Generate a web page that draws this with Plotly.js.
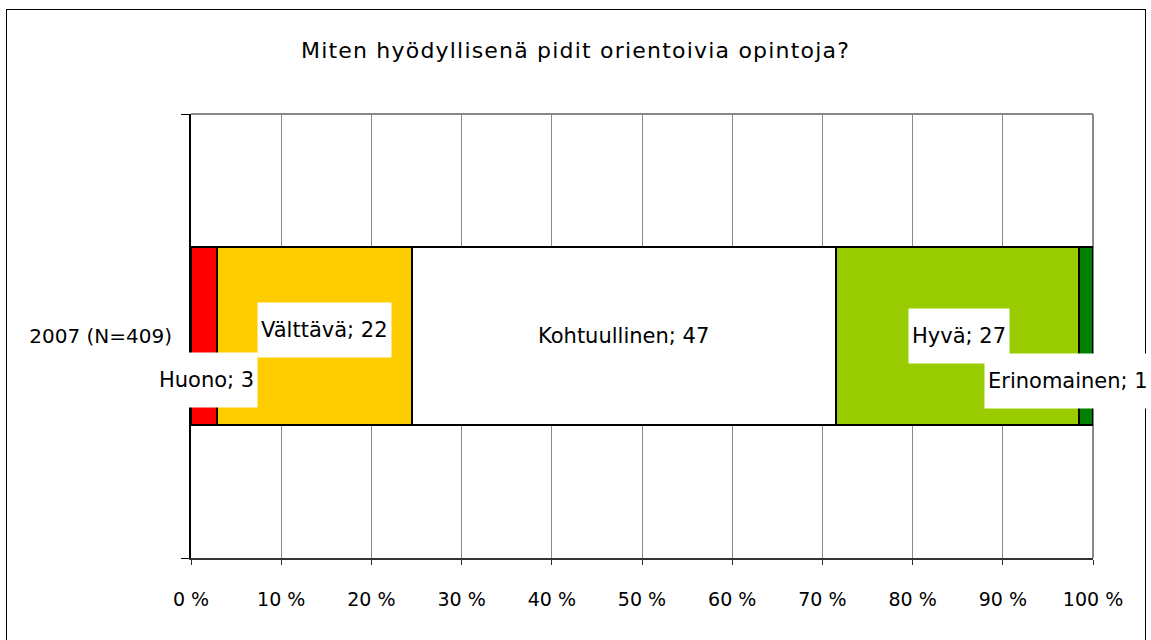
<!DOCTYPE html>
<html>
<head>
<meta charset="utf-8">
<script src="https://cdn.plot.ly/plotly-3.0.1.min.js"></script>
<style>
  html, body { margin: 0; padding: 0; background: #ffffff; }
  #frame { position: absolute; left: 6px; top: 9px; width: 1140px; height: 700px; border: 1.5px solid #000; box-sizing: border-box; }
  #chart { position: absolute; left: 0; top: 0; width: 1151px; height: 640px; }
  #chart .gtitle { letter-spacing: 1.2px; }
</style>
</head>
<body>
<div id="frame"></div>
<div id="chart"></div>
<script>
// ---- data ----
const titleText = "Miten hyödyllisenä pidit orientoivia opintoja?";
const category = "2007 (N=409)";
const seriesNames = ["Huono", "Välttävä", "Kohtuullinen", "Hyvä", "Erinomainen"];
const seriesValues = [2.9, 21.6, 47.0, 27.0, 1.5];     // percent shares (bar lengths)
const labelValues = [3, 22, 47, 27, 1];                // values shown in data labels
const xTickVals = [0, 10, 20, 30, 40, 50, 60, 70, 80, 90, 100];
const xTickText = ["0 %", "10 %", "20 %", "30 %", "40 %", "50 %", "60 %", "70 %", "80 %", "90 %", "100 %"];

// ---- styles ----
const colors = ["#FF0000", "#FFCC00", "#FFFFFF", "#99CC00", "#008000"];
const labelShiftX = [2, 10, 0, 1, -18];
const labelShiftY = [-44, 6, 0, 0, -45];
const FONT = "DejaVu Sans, Verdana, sans-serif";

const traces = seriesNames.map((name, i) => ({
  type: "bar",
  orientation: "h",
  name: name,
  x: [seriesValues[i]],
  y: [category],
  width: 0.4,
  marker: { color: colors[i], line: { color: "#000000", width: 2 } },
  hoverinfo: "skip",
  showlegend: false
}));

// label positions from cumulative values
let cum = 0;
const annotations = seriesNames.map((name, i) => {
  const center = cum + seriesValues[i] / 2;
  cum += seriesValues[i];
  return {
    x: center, y: category, xref: "x", yref: "y",
    text: name + "; " + labelValues[i],
    showarrow: false,
    xshift: labelShiftX[i], yshift: labelShiftY[i],
    bgcolor: "#FFFFFF",
    borderpad: 3,
    height: 48,
    valign: "middle",
    font: { family: FONT, size: 21, color: "#000000" }
  };
});

const layout = {
  width: 1151, height: 640,
  paper_bgcolor: "rgba(0,0,0,0)",
  plot_bgcolor: "#FFFFFF",
  margin: { l: 191, r: 58, t: 114, b: 82 },
  title: {
    text: titleText,
    xref: "container", x: 0.5, xanchor: "center",
    yref: "container", y: 0.922, yanchor: "middle",
    font: { family: FONT, size: 22, color: "#000000" }
  },
  barmode: "stack",
  xaxis: {
    range: [0, 100],
    tickvals: xTickVals, ticktext: xTickText,
    showgrid: true, gridcolor: "#888888", gridwidth: 1,
    zeroline: false,
    showline: true, linecolor: "#333333", linewidth: 2,
    ticks: "outside", ticklen: 5, tickcolor: "#333333", tickwidth: 1,
    ticklabelstandoff: 18,
    tickfont: { family: FONT, size: 19, color: "#000000" },
    fixedrange: true
  },
  yaxis: {
    type: "category",
    range: [-0.5, 0.5],
    showgrid: false, zeroline: false,
    showline: true, linecolor: "#000000", linewidth: 2,
    ticks: "outside", tickson: "boundaries", ticklen: 8, tickcolor: "#000000", tickwidth: 1,
    ticklabelstandoff: 13,
    tickfont: { family: FONT, size: 20, color: "#000000" },
    fixedrange: true
  },
  shapes: [
    { type: "line", xref: "paper", yref: "paper", x0: 0, x1: 1, y0: 1, y1: 1, line: { color: "#888888", width: 2 }, layer: "below" },
    { type: "line", xref: "paper", yref: "paper", x0: 1, x1: 1, y0: 0, y1: 1, line: { color: "#888888", width: 2 }, layer: "below" }
  ],
  annotations: annotations
};

Plotly.newPlot("chart", traces, layout, { staticPlot: true, displayModeBar: false });
</script>
</body>
</html>
